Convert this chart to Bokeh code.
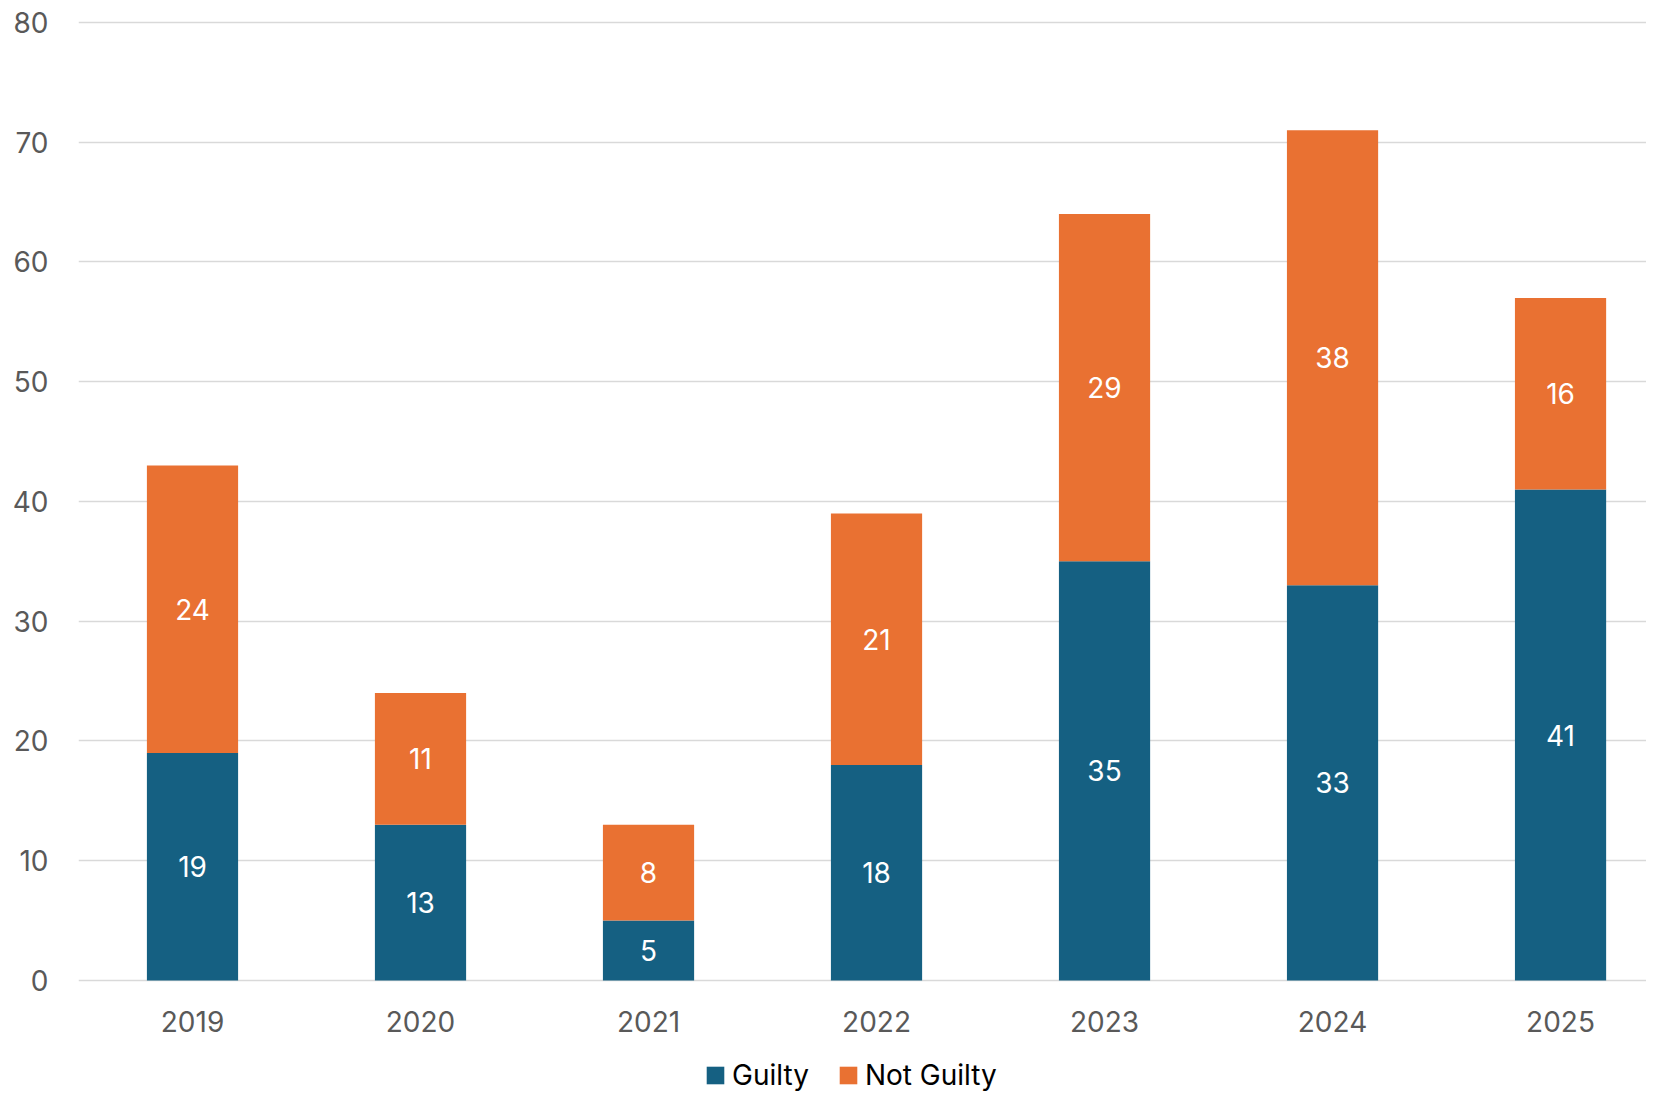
from bokeh.plotting import figure
from bokeh.models import ColumnDataSource, Range1d, LabelSet, Legend, LegendItem, FixedTicker
from bokeh.core.properties import value
from bokeh.embed import file_html
from bokeh.resources import INLINE

years = ["2019", "2020", "2021", "2022", "2023", "2024", "2025"]
guilty = [19, 13, 5, 18, 35, 33, 41]
not_guilty = [24, 11, 8, 21, 29, 38, 16]
y_ticks = [0, 10, 20, 30, 40, 50, 60, 70, 80]

BLUE = "#156082"
ORANGE = "#E97132"
FONT = "Inter"
FS = "28px"

idx = list(range(len(years)))
src = ColumnDataSource(dict(
    x=idx,
    year=years,
    base=[0] * len(years),
    guilty=guilty,
    not_guilty=not_guilty,
    g_mid=[g / 2 for g in guilty],
    n_mid=[g + n / 2 for g, n in zip(guilty, not_guilty)],
    g_txt=[str(g) for g in guilty],
    n_txt=[str(n) for n in not_guilty],
))

# frame: top 19px, bottom at canvas edge; 11.975 px per unit, 0-line at y=980
p = figure(width=1646, height=1092, output_backend="svg", toolbar_location=None,
           x_axis_location=None,
           x_range=Range1d(-0.5, 6.377), y_range=Range1d(-9.353, 80.25),
           min_border_left=78, min_border_right=0, min_border_top=19, min_border_bottom=0)
p.outline_line_color = None

rs = p.vbar_stack(["guilty", "not_guilty"], x="x", width=0.4, color=[BLUE, ORANGE],
                  line_color=None, source=src)

for col, txt in (("g_mid", "g_txt"), ("n_mid", "n_txt")):
    p.add_layout(LabelSet(x="x", y=col, text=txt, source=src, text_align="center",
                          text_baseline="middle", text_color="white", text_font=value(FONT),
                          text_font_size=FS))

# category labels under the baseline
p.add_layout(LabelSet(x="x", y="base", text="year", source=src, text_align="center",
                      text_baseline="middle", y_offset=-41, text_color="#595959",
                      text_font=value(FONT), text_font_size=FS))

p.xgrid.grid_line_color = None
p.ygrid.grid_line_color = "#D9D9D9"
p.ygrid.grid_line_width = 1.5
p.yaxis.ticker = FixedTicker(ticks=y_ticks)

ax = p.yaxis[0]
ax.axis_line_color = None
ax.major_tick_line_color = None
ax.minor_tick_line_color = None
ax.major_tick_out = 0
ax.major_tick_in = 0
ax.major_label_text_font = FONT
ax.major_label_text_font_size = FS
ax.major_label_text_color = "#595959"
ax.major_label_standoff = 30

legend = Legend(items=[LegendItem(label="Guilty", renderers=[rs[0]]),
                       LegendItem(label="Not Guilty", renderers=[rs[1]])],
                orientation="horizontal", location=(626, 0),
                label_text_font=FONT, label_text_font_size=FS, label_text_color="#000000",
                glyph_width=22, glyph_height=22, label_standoff=6, spacing=28,
                border_line_color=None, background_fill_alpha=0, padding=0, margin=0)
p.add_layout(legend)

open("out.html", "w").write(file_html(p, INLINE))
